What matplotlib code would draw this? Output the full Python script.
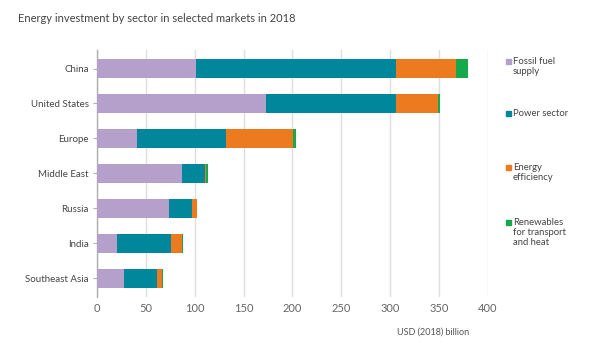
import matplotlib
matplotlib.use("Agg")
import matplotlib.pyplot as plt
import numpy as np

regions = ["China", "United States", "Europe", "Middle East", "Russia", "India", "Southeast Asia"]
fossil = [101, 173, 41, 86.5, 73.5, 20, 27.5]
power = [205, 133, 91, 24, 24, 56, 34]
efficiency = [61, 43, 69, 1.5, 4.5, 11, 5.5]
renewables = [13, 1.5, 3, 1.5, 0.5, 0.5, 0.3]
series_labels = ["Fossil fuel\nsupply", "Power sector", "Energy\nefficiency", "Renewables\nfor transport\nand heat"]
colors = ["#b59fcb", "#00879c", "#ec7a1e", "#14a94a"]
xticks = [0, 50, 100, 150, 200, 250, 300, 350, 400]

plt.rcParams['font.family'] = ['Lato', 'DejaVu Sans']

fig = plt.figure(figsize=(6, 3.6), dpi=100)
ax = fig.add_axes([97/600, 1-297/360, (488-97)/600, 247/360])

y = np.arange(len(regions))
left = np.zeros(len(regions))
for vals, c in zip([fossil, power, efficiency, renewables], colors):
    ax.barh(y, vals, left=left, height=0.55, color=c, zorder=3)
    left += np.array(vals)

ax.set_xlim(0, 400)
ax.set_ylim(6.54, -0.53)
ax.set_xticks(xticks)
ax.set_xticklabels([str(t) for t in xticks])
ax.set_yticks(y)
ax.set_yticklabels(regions)
ax.grid(axis='x', color='#dedede', linewidth=1, zorder=0)
for s in ['top', 'right', 'bottom']:
    ax.spines[s].set_visible(False)
ax.spines['left'].set_color('#b0b0b0')
ax.spines['left'].set_linewidth(1)
ax.tick_params(axis='x', length=0, pad=4, labelsize=8, labelcolor='#666666')
ax.tick_params(axis='y', length=3, color='#b0b0b0', pad=3, labelsize=7, labelcolor='#444444')

fig.text(18/600, 1-18/360, "Energy investment by sector in selected markets in 2018",
         fontsize=8, color='#444444', va='center', ha='left')
fig.text(469/600, 1-332/360, "USD (2018) billion", fontsize=6.5, color='#555555', ha='right', va='center')

leg_y = [61, 113, 167, 222]
for lab, c, yy in zip(series_labels, colors, leg_y):
    fig.patches.append(plt.Rectangle((506/600, 1-(yy+2.5)/360), 5/600, 5/360,
                                     transform=fig.transFigure, color=c, figure=fig))
    fig.text(513/600, 1-(yy-4)/360, lab, fontsize=6.8, color='#444444', ha='left', va='top',
             linespacing=1.15)

fig.savefig("out.png", dpi=100, facecolor='white')
